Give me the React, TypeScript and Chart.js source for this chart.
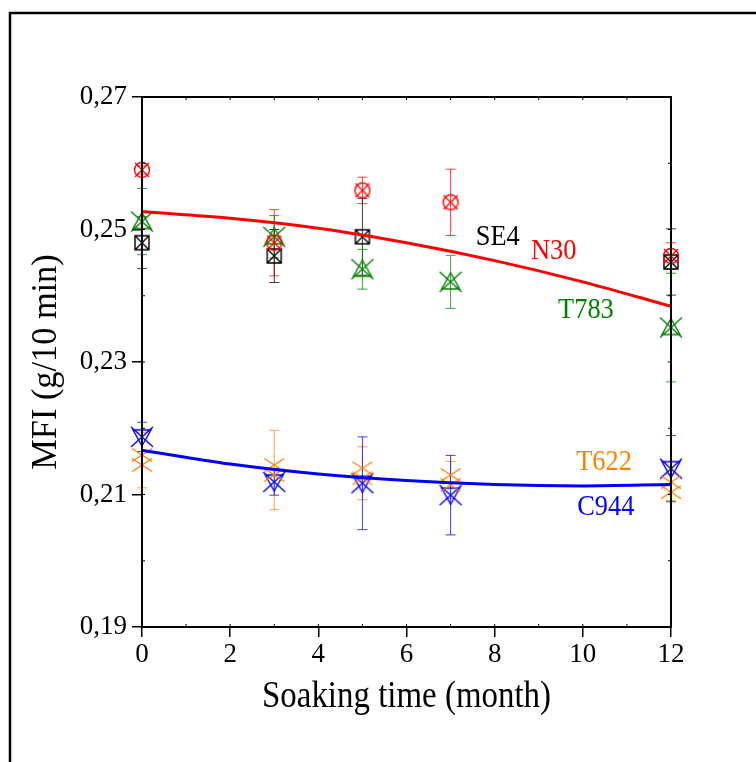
import React, { useEffect, useRef } from 'react';
import { Chart, registerables } from 'chart.js';

Chart.register(...registerables);

// ---- data ----
const months = [0, 3, 5, 7, 12];
const se4Months = [0, 3, 5, 12];

const n30Values = [0.2590, 0.2480, 0.2559, 0.2541, 0.2460];
const n30Errors = [0.0006, 0.0050, 0.0020, 0.0050, 0.0020];

const se4Values = [0.2480, 0.2460, 0.2489, 0.2451];
const se4Errors = [0.0039, 0.0040, 0.0058, 0.0050];

const t783Values = [0.2512, 0.2489, 0.2440, 0.2421, 0.2352];
const t783Errors = [0.0050, 0.0032, 0.0030, 0.0040, 0.0082];

const t622Values = [0.2152, 0.2137, 0.2132, 0.2122, 0.2111];
const t622Errors = [0.0042, 0.0060, 0.0040, 0.0028, 0.0020];

const c944Values = [0.2187, 0.2119, 0.2117, 0.2099, 0.2139];
const c944Errors = [0.0022, 0.0020, 0.0070, 0.0060, 0.0050];

const fitMonths = [0, 2, 4, 6, 8, 10, 12];
const upperFit = [0.2527, 0.2517, 0.2502, 0.2480, 0.2453, 0.2421, 0.2384];
const lowerFit = [0.2167, 0.2146, 0.2131, 0.2121, 0.2115, 0.2113, 0.2115];

const yTicks = [0.19, 0.21, 0.23, 0.25, 0.27];
const xTicks = [0, 2, 4, 6, 8, 10, 12];

const xTitle = 'Soaking time (month)';
const yTitle = 'MFI (g/10 min)';

const seriesLabels = ['SE4', 'N30', 'T783', 'T622', 'C944'];
const labelX = [8.07, 9.34, 10.07, 10.48, 10.52];
const labelY = [0.2489, 0.2468, 0.2379, 0.2149, 0.2081];

const RED = '#ff0000';
const BLACK = '#000000';
const GREEN = '#008000';
const ORANGE = '#ff8000';
const BLUE = '#0000ff';
const labelColors = [BLACK, RED, GREEN, ORANGE, BLUE];

const FONT = '"Liberation Serif", "Times New Roman", serif';

function makeMarker(kind: string, color: string): HTMLCanvasElement {
  const c = document.createElement('canvas');
  c.width = 28;
  c.height = 28;
  const g = c.getContext('2d') as CanvasRenderingContext2D;
  g.translate(14, 14);
  g.strokeStyle = color;
  g.lineWidth = 1.4;
  g.beginPath();
  if (kind === 'circleX') {
    g.arc(0, 0, 7.5, 0, Math.PI * 2);
    g.moveTo(-7, -7); g.lineTo(7, 7);
    g.moveTo(7, -7); g.lineTo(-7, 7);
  } else if (kind === 'squareX') {
    g.rect(-7, -7, 14, 14);
    g.moveTo(-7, -7); g.lineTo(7, 7);
    g.moveTo(7, -7); g.lineTo(-7, 7);
  } else if (kind === 'triX') {
    g.moveTo(0, -9); g.lineTo(9, 7); g.lineTo(-9, 7); g.closePath();
    g.moveTo(-11, -10); g.lineTo(11, 10);
    g.moveTo(11, -10); g.lineTo(-11, 10);
  } else if (kind === 'invTriX') {
    g.moveTo(0, 9); g.lineTo(9, -7); g.lineTo(-9, -7); g.closePath();
    g.moveTo(-11, -10); g.lineTo(11, 10);
    g.moveTo(11, -10); g.lineTo(-11, 10);
  } else if (kind === 'doubleX') {
    for (const dy of [-5, 5]) {
      g.moveTo(-10, dy - 6.5); g.lineTo(10, dy + 6.5);
      g.moveTo(10, dy - 6.5); g.lineTo(-10, dy + 6.5);
    }
  }
  g.stroke();
  return c;
}

function withAlpha(hex: string, a: number) {
  const r = parseInt(hex.slice(1, 3), 16);
  const gg = parseInt(hex.slice(3, 5), 16);
  const b = parseInt(hex.slice(5, 7), 16);
  return `rgba(${r},${gg},${b},${a})`;
}

function squeezedText(ctx: CanvasRenderingContext2D, text: string, x: number, y: number, sx: number, rot: number) {
  ctx.save();
  ctx.translate(x, y);
  ctx.rotate(rot);
  ctx.scale(sx, 1);
  ctx.fillText(text, 0, 0);
  ctx.restore();
}

const errorBarPlugin = {
  id: 'errorBars',
  beforeDatasetsDraw(chart: any) {
    const ctx = chart.ctx;
    const yScale = chart.scales.y;
    chart.data.datasets.forEach((ds: any, di: number) => {
      if (!ds.errors) return;
      const meta = chart.getDatasetMeta(di);
      ctx.save();
      ctx.strokeStyle = withAlpha(ds.borderColor, 0.75);
      ctx.lineWidth = 1;
      meta.data.forEach((el: any, i: number) => {
        const v = ds.data[i].y;
        const e = ds.errors[i];
        const x = el.x;
        const yt = yScale.getPixelForValue(v + e);
        const yb = yScale.getPixelForValue(v - e);
        ctx.beginPath();
        ctx.moveTo(x, yt); ctx.lineTo(x, yb);
        ctx.moveTo(x - 5, yt); ctx.lineTo(x + 5, yt);
        ctx.moveTo(x - 5, yb); ctx.lineTo(x + 5, yb);
        ctx.stroke();
      });
      ctx.restore();
    });
  },
};

const decorPlugin = {
  id: 'decor',
  beforeDraw(chart: any) {
    const ctx = chart.ctx;
    ctx.save();
    ctx.fillStyle = '#ffffff';
    ctx.fillRect(0, 0, chart.width, chart.height);
    ctx.strokeStyle = '#000';
    ctx.lineWidth = 2.5;
    ctx.strokeRect(10, 13, 900, 900);
    ctx.restore();
  },
  afterDraw(chart: any) {
    const ctx = chart.ctx;
    const { left, right, top, bottom } = chart.chartArea;
    const xs = chart.scales.x;
    const ys = chart.scales.y;
    ctx.save();
    ctx.strokeStyle = '#000';
    ctx.lineWidth = 1;
    ctx.beginPath();
    for (let m = 0; m <= 12; m++) {
      const px = xs.getPixelForValue(m);
      ctx.moveTo(px, top); ctx.lineTo(px, top + 3);
      ctx.moveTo(px, bottom); ctx.lineTo(px, bottom - 3);
    }
    for (let k = 0; k <= 8; k++) {
      const py = ys.getPixelForValue(0.19 + k * 0.01);
      ctx.moveTo(left, py); ctx.lineTo(left + 3, py);
      ctx.moveTo(right, py); ctx.lineTo(right - 3, py);
    }
    ctx.stroke();
    ctx.lineWidth = 2;
    ctx.strokeRect(left, top, right - left, bottom - top);

    ctx.textAlign = 'center';
    ctx.textBaseline = 'middle';
    // axis titles
    ctx.fillStyle = '#000';
    ctx.font = `37px ${FONT}`;
    squeezedText(ctx, xTitle, (left + right) / 2, 697, 0.89, 0);
    ctx.font = `35px ${FONT}`;
    squeezedText(ctx, yTitle, 47, (top + bottom) / 2, 0.98, -Math.PI / 2);
    // series labels
    ctx.font = `30px ${FONT}`;
    seriesLabels.forEach((t, i) => {
      ctx.fillStyle = labelColors[i];
      squeezedText(ctx, t, xs.getPixelForValue(labelX[i]), ys.getPixelForValue(labelY[i]), 0.88, 0);
    });
    ctx.restore();
  },
};

function pts(xsArr: number[], ysArr: number[]) {
  return xsArr.map((x, i) => ({ x, y: ysArr[i] }));
}

export default function App() {
  const ref = useRef<HTMLCanvasElement | null>(null);
  useEffect(() => {
    if (!ref.current) return;
    const scatter = (label: string, xsArr: number[], vals: number[], errs: number[], color: string, kind: string) => ({
      type: 'scatter' as const,
      label,
      data: pts(xsArr, vals),
      errors: errs,
      borderColor: color,
      backgroundColor: color,
      pointStyle: makeMarker(kind, color),
      pointRadius: 10,
      showLine: false,
      clip: false,
    });
    const chart = new Chart(ref.current, {
      type: 'scatter',
      data: {
        datasets: [
          {
            type: 'line',
            label: 'fit upper',
            data: pts(fitMonths, upperFit),
            borderColor: RED,
            borderWidth: 3,
            pointRadius: 0,
            tension: 0.4,
            cubicInterpolationMode: 'monotone',
            fill: false,
          } as any,
          {
            type: 'line',
            label: 'fit lower',
            data: pts(fitMonths, lowerFit),
            borderColor: BLUE,
            borderWidth: 3,
            pointRadius: 0,
            tension: 0.4,
            cubicInterpolationMode: 'monotone',
            fill: false,
          } as any,
          scatter('N30', months, n30Values, n30Errors, RED, 'circleX'),
          scatter('SE4', se4Months, se4Values, se4Errors, BLACK, 'squareX'),
          scatter('T783', months, t783Values, t783Errors, GREEN, 'triX'),
          scatter('T622', months, t622Values, t622Errors, ORANGE, 'doubleX'),
          scatter('C944', months, c944Values, c944Errors, BLUE, 'invTriX'),
        ] as any,
      },
      options: {
        animation: false,
        responsive: false,
        devicePixelRatio: 1,
        layout: { padding: { left: 0, top: 97, right: 85, bottom: 0 } },
        plugins: { legend: { display: false }, tooltip: { enabled: false } },
        scales: {
          x: {
            type: 'linear',
            min: 0,
            max: 12,
            afterFit: (s: any) => { s.height = 135; },
            afterBuildTicks: (s: any) => { s.ticks = xTicks.map((v) => ({ value: v })); },
            ticks: {
              color: '#000',
              font: { family: FONT, size: 27 },
              padding: 2,
              maxRotation: 0,
              callback: (v: any) => String(v),
            },
            grid: { drawOnChartArea: false, drawTicks: true, tickLength: 10, color: '#000', lineWidth: 1.5 },
            border: { display: false },
          },
          y: {
            type: 'linear',
            min: 0.19,
            max: 0.27,
            afterFit: (s: any) => { s.width = 142; },
            afterBuildTicks: (s: any) => { s.ticks = yTicks.map((v) => ({ value: v })); },
            ticks: {
              color: '#000',
              font: { family: FONT, size: 27 },
              padding: 5,
              callback: (v: any) => Number(v).toFixed(2).replace('.', ','),
            },
            grid: { drawOnChartArea: false, drawTicks: true, tickLength: 10, color: '#000', lineWidth: 1.5 },
            border: { display: false },
          },
        },
      } as any,
      plugins: [decorPlugin, errorBarPlugin],
    });
    return () => chart.destroy();
  }, []);
  return (
    <div style={{ position: 'fixed', left: 0, top: 0, width: 756, height: 762, background: '#fff' }}>
      <canvas ref={ref} width={756} height={762} style={{ width: 756, height: 762, display: 'block' }} />
    </div>
  );
}
